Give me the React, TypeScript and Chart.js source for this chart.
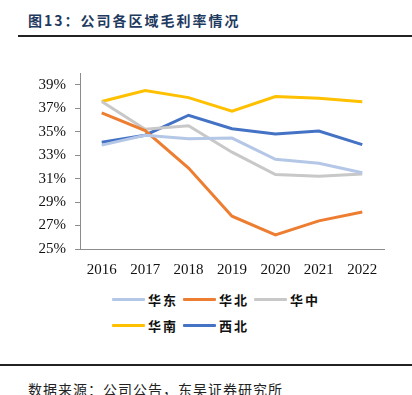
import React, { useEffect, useRef } from "react";
import { Chart, registerables } from "chart.js";

Chart.register(...registerables);

const categories = ["2016", "2017", "2018", "2019", "2020", "2021", "2022"];
const seriesNames = ["华东", "华北", "华中", "华南", "西北"];
const huadong = [33.85, 34.7, 34.4, 34.45, 32.65, 32.3, 31.5];
const huabei = [36.6, 35.1, 31.9, 27.8, 26.2, 27.4, 28.15];
const huazhong = [37.57, 35.2, 35.5, 33.25, 31.35, 31.2, 31.4];
const huanan = [37.57, 38.5, 37.9, 36.75, 38.0, 37.85, 37.55];
const xibei = [34.1, 34.7, 36.4, 35.25, 34.8, 35.05, 33.9];
const yTicks = [25, 27, 29, 31, 33, 35, 37, 39];
const colors = ["#B4C7E7", "#ED7D31", "#C8C8C8", "#FFC000", "#4472C4"];
const yMin = 25;
const yMax = 40;

export default function App() {
  const ref = useRef<HTMLCanvasElement | null>(null);
  useEffect(() => {
    if (!ref.current) return;
    const values = [huadong, huabei, huazhong, huanan, xibei];
    const chart = new Chart(ref.current, {
      type: "line",
      data: {
        labels: categories,
        datasets: seriesNames.map((n, i) => ({
          label: n,
          data: values[i],
          borderColor: colors[i],
          backgroundColor: colors[i],
          borderWidth: 3,
          pointRadius: 0,
          tension: 0,
        })),
      },
      options: {
        animation: false,
        responsive: false,
        maintainAspectRatio: false,
        layout: { padding: { left: 0, right: 28, top: 73, bottom: 0 } },
        plugins: { legend: { display: false }, tooltip: { enabled: false } },
        scales: {
          x: {
            offset: true,
            grid: { drawOnChartArea: false, drawTicks: false },
            border: { color: "#8c8c8c", width: 1 },
            ticks: {
              padding: 12,
              color: "#111",
              font: { family: "Liberation Serif", size: 15 },
              maxRotation: 0,
            },
            afterFit: (s: any) => {
              s.height = 40;
            },
          },
          y: {
            min: yMin,
            max: yMax,
            grid: { drawOnChartArea: false, drawTicks: true, tickLength: 5, color: "#8c8c8c" },
            border: { color: "#8c8c8c", width: 1 },
            ticks: {
              padding: 9,
              color: "#111",
              font: { family: "Liberation Serif", size: 15 },
              callback: (v: any) => v + "%",
            },
            afterBuildTicks: (s: any) => {
              s.ticks = yTicks.map((v) => ({ value: v }));
            },
            afterFit: (s: any) => {
              s.width = 80;
            },
          },
        },
      },
    });
    return () => chart.destroy();
  }, []);

  const legendRows = [[0, 1, 2], [3, 4]];
  return (
    <div
      style={{
        position: "fixed",
        left: 0,
        top: 0,
        width: 412,
        height: 395,
        background: "#fff",
        overflow: "hidden",
        fontFamily: "'Noto Sans CJK SC', sans-serif",
      }}
    >
      <div
        style={{
          position: "absolute",
          left: 28,
          top: 10,
          fontSize: 14,
          fontWeight: 700,
          color: "#1F3A5F",
          letterSpacing: 2,
          whiteSpace: "nowrap",
        }}
      >
        图13：公司各区域毛利率情况
      </div>
      <div style={{ position: "absolute", left: 18, top: 35, width: 394, height: 2, background: "#222" }} />
      <canvas ref={ref} width={412} height={289} style={{ position: "absolute", left: 0, top: 0, width: 412, height: 289 }} />
      {legendRows.map((row, ri) => (
        <div key={ri} style={{ position: "absolute", left: 112, top: 290 + ri * 26, display: "flex", height: 18, alignItems: "center" }}>
          {row.map((i) => (
            <div key={i} style={{ display: "flex", alignItems: "center", width: 71 }}>
              <div style={{ width: 33, height: 3, background: colors[i], borderRadius: 1 }} />
              <span style={{ marginLeft: 3, fontSize: 13, fontWeight: 700, letterSpacing: 2, color: "#111" }}>{seriesNames[i]}</span>
            </div>
          ))}
        </div>
      ))}
      <div style={{ position: "absolute", left: 0, top: 364, width: 412, height: 2, background: "#222" }} />
      <div style={{ position: "absolute", left: 28, top: 379, fontSize: 14, color: "#222", letterSpacing: 1, whiteSpace: "nowrap" }}>
        数据来源：公司公告，东吴证券研究所
      </div>
    </div>
  );
}
